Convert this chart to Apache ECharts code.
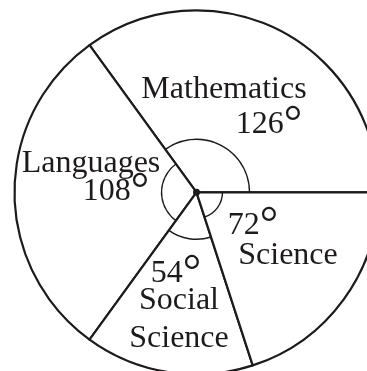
<!DOCTYPE html>
<html>
<head>
<meta charset="utf-8">
<script src="https://cdn.jsdelivr.net/npm/echarts@6/dist/echarts.min.js"></script>
<style>
  html, body { margin: 0; padding: 0; background: #fff; }
  #chart { width: 367px; height: 371px; }
</style>
</head>
<body>
<div id="chart"></div>
<script>
// subjects, counter-clockwise from the right-hand horizontal radius
const subjects = ["Mathematics", "Languages", "Social Science", "Science"];
const degrees = [126, 108, 54, 72];

// label layout (text lines per subject, pixel positions)
const labelLines = [
  [{ t: "name", x: 224, y: 90 }, { t: "deg", x: 269, y: 125 }],
  [{ t: "name", x: 91, y: 164 }, { t: "deg", x: 116, y: 192 }],
  [{ t: "deg", x: 176, y: 274 }, { t: "Social", x: 179, y: 301 }, { t: "Science", x: 179, y: 339 }],
  [{ t: "deg", x: 253, y: 226 }, { t: "name", x: 288, y: 256 }]
];
// radius of the small angle arc drawn in each sector
const arcRadius = [53, 35, 47, 26];

const center = [196.5, 192.3];
const ink = "#1e1a1b";

const chart = echarts.init(document.getElementById("chart"));

const pieData = subjects.map((s, i) => ({ name: s, value: degrees[i] }));

const series = [
  {
    type: "pie",
    center: center,
    radius: [0, 182],
    startAngle: 0,
    clockwise: false,
    silent: true,
    label: { show: false },
    labelLine: { show: false },
    itemStyle: { color: "#fff", borderColor: ink, borderWidth: 2.2 },
    data: pieData
  }
];

// thin rings, each coloured only in its own sector, give the angle arcs
arcRadius.forEach((r, k) => {
  series.push({
    type: "pie",
    center: center,
    radius: [r - 0.7, r + 0.7],
    startAngle: 0,
    clockwise: false,
    silent: true,
    label: { show: false },
    labelLine: { show: false },
    data: pieData.map((d, i) => ({
      name: d.name,
      value: d.value,
      itemStyle: { color: i === k ? ink : "rgba(0,0,0,0)", borderWidth: 0 }
    }))
  });
});

// centre dot
series.push({
  type: "pie",
  center: center,
  radius: [0, 3.5],
  silent: true,
  label: { show: false },
  labelLine: { show: false },
  itemStyle: { color: ink },
  data: [{ value: 1 }]
});

const graphics = [];
labelLines.forEach((lines, i) => {
  lines.forEach((ln) => {
    let txt;
    if (ln.t === "name") txt = subjects[i];
    else if (ln.t === "deg") txt = degrees[i] + "{d|°}";
    else txt = ln.t;
    graphics.push({
      type: "text",
      x: ln.x,
      y: ln.y,
      z: 100,
      silent: true,
      style: {
        text: txt,
        fill: ink,
        fontSize: 32,
        fontFamily: "Liberation Serif",
        align: "center",
        verticalAlign: "middle",
        rich: {
          d: { fontSize: 46, fontFamily: "Liberation Serif", fill: ink }
        }
      }
    });
  });
});

chart.setOption({
  animation: false,
  backgroundColor: "#fff",
  series: series,
  graphic: graphics
});
</script>
</body>
</html>
